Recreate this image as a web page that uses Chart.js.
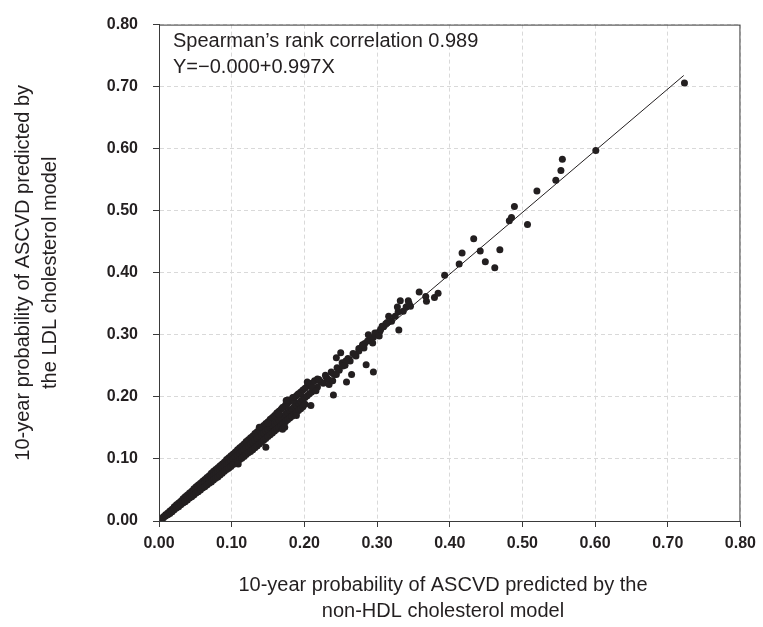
<!DOCTYPE html>
<html>
<head>
<meta charset="utf-8">
<title>LDL vs non-HDL ASCVD risk</title>
<script src="https://cdn.jsdelivr.net/npm/chart.js@4/dist/chart.umd.min.js"></script>
<style>
    body { margin: 0; background: #fff; }
    canvas { display: block; }
</style>
</head>
<body>
<canvas id="riskChart" width="763" height="627"></canvas>
<script>
// 10-year ASCVD risk: non-HDL model (x) vs LDL model (y)
// dense band near the origin, then the sparser upper part
const nonHdlRisk = [
    0.003, 0.003, 0.006, 0.006, 0.009, 0.009,
    0.012, 0.012, 0.012, 0.015, 0.015, 0.015, 0.018, 0.018, 0.018,
    0.021, 0.021, 0.021, 0.024, 0.024, 0.024, 0.027, 0.027, 0.027,
    0.030, 0.030, 0.030, 0.033, 0.033, 0.033, 0.036, 0.036, 0.036,
    0.039, 0.039, 0.039, 0.042, 0.042, 0.042, 0.045, 0.045, 0.045,
    0.048, 0.048, 0.048, 0.051, 0.051, 0.051, 0.054, 0.054, 0.054,
    0.057, 0.057, 0.057, 0.060, 0.060, 0.060, 0.063, 0.063, 0.063,
    0.066, 0.066, 0.066, 0.069, 0.069, 0.069, 0.072, 0.072, 0.072,
    0.075, 0.075, 0.075, 0.078, 0.078, 0.078, 0.081, 0.081, 0.081,
    0.084, 0.084, 0.084, 0.087, 0.087, 0.087, 0.090, 0.090, 0.090,
    0.093, 0.093, 0.093, 0.096, 0.096, 0.096, 0.099, 0.099, 0.099,
    0.102, 0.102, 0.102, 0.105, 0.105, 0.105, 0.108, 0.108, 0.108,
    0.111, 0.111, 0.111, 0.114, 0.114, 0.114, 0.117, 0.117, 0.117,
    0.120, 0.120, 0.120, 0.123, 0.123, 0.123, 0.126, 0.126, 0.126,
    0.129, 0.129, 0.129, 0.132, 0.132, 0.132, 0.135, 0.135, 0.135,
    0.138, 0.138, 0.138, 0.141, 0.141, 0.141, 0.144, 0.144, 0.144,
    0.147, 0.147, 0.147, 0.150, 0.150, 0.150, 0.153, 0.153, 0.153,
    0.156, 0.156, 0.156, 0.159, 0.159, 0.159, 0.162, 0.162, 0.162,
    0.165, 0.165, 0.165, 0.168, 0.168, 0.168, 0.171, 0.171, 0.171,
    0.174, 0.174, 0.174, 0.177, 0.177, 0.177, 0.180, 0.180, 0.180,
    0.183, 0.183, 0.183, 0.186, 0.186, 0.186, 0.189, 0.189, 0.189,
    0.192, 0.192, 0.192, 0.195, 0.195, 0.195, 0.198, 0.198, 0.198,
    0.201, 0.201, 0.201, 0.204, 0.204, 0.207, 0.207, 0.210, 0.210,
    0.214, 0.214, 0.218, 0.218,
    0.222, 0.226, 0.230, 0.233, 0.237, 0.241, 0.245, 0.248, 0.252, 0.256,
    0.260, 0.263, 0.267, 0.271, 0.275, 0.279, 0.283, 0.287, 0.291, 0.295,
    0.300, 0.304, 0.309, 0.314, 0.320, 0.325, 0.336, 0.340,
    0.150, 0.165, 0.175, 0.185, 0.195, 0.138, 0.147, 0.109, 0.170, 0.177,
    0.298, 0.288, 0.294, 0.282, 0.275, 0.269, 0.285, 0.295, 0.250, 0.244,
    0.257, 0.253, 0.265, 0.258, 0.244, 0.229, 0.220, 0.204, 0.234, 0.239,
    0.240, 0.211, 0.216, 0.191, 0.184, 0.209, 0.175, 0.170, 0.189, 0.173,
    0.312, 0.305, 0.297, 0.303, 0.280, 0.307, 0.330,
    0.316, 0.329, 0.328, 0.332, 0.343, 0.346, 0.344, 0.358, 0.367, 0.368,
    0.379, 0.384, 0.393, 0.413, 0.417, 0.433, 0.442, 0.449, 0.469, 0.462,
    0.482, 0.485, 0.489, 0.507, 0.520, 0.546, 0.553, 0.555, 0.601, 0.723
];
const ldlRisk = [
    0.003, 0.002, 0.007, 0.005, 0.010, 0.008,
    0.013, 0.011, 0.010, 0.016, 0.014, 0.012, 0.019, 0.017, 0.015,
    0.023, 0.020, 0.018, 0.026, 0.023, 0.021, 0.029, 0.026, 0.023,
    0.032, 0.029, 0.026, 0.036, 0.032, 0.029, 0.039, 0.035, 0.031,
    0.042, 0.038, 0.034, 0.045, 0.041, 0.037, 0.048, 0.044, 0.039,
    0.052, 0.047, 0.042, 0.055, 0.050, 0.045, 0.058, 0.053, 0.047,
    0.061, 0.056, 0.050, 0.064, 0.059, 0.053, 0.067, 0.062, 0.055,
    0.070, 0.064, 0.058, 0.073, 0.067, 0.061, 0.077, 0.070, 0.063,
    0.080, 0.073, 0.066, 0.083, 0.076, 0.069, 0.086, 0.079, 0.071,
    0.089, 0.082, 0.074, 0.092, 0.085, 0.077, 0.095, 0.088, 0.080,
    0.099, 0.091, 0.083, 0.102, 0.094, 0.085, 0.105, 0.097, 0.088,
    0.108, 0.100, 0.091, 0.111, 0.103, 0.094, 0.115, 0.106, 0.096,
    0.118, 0.109, 0.099, 0.121, 0.112, 0.101, 0.124, 0.115, 0.104,
    0.128, 0.118, 0.107, 0.131, 0.121, 0.110, 0.134, 0.124, 0.112,
    0.137, 0.127, 0.115, 0.141, 0.130, 0.118, 0.144, 0.133, 0.121,
    0.147, 0.136, 0.124, 0.151, 0.139, 0.127, 0.154, 0.142, 0.130,
    0.157, 0.145, 0.133, 0.160, 0.148, 0.136, 0.164, 0.151, 0.139,
    0.167, 0.154, 0.142, 0.170, 0.157, 0.145, 0.174, 0.160, 0.148,
    0.177, 0.163, 0.151, 0.180, 0.166, 0.154, 0.183, 0.169, 0.157,
    0.187, 0.172, 0.160, 0.190, 0.175, 0.163, 0.193, 0.178, 0.166,
    0.196, 0.181, 0.169, 0.199, 0.184, 0.172, 0.202, 0.187, 0.175,
    0.205, 0.190, 0.178, 0.208, 0.193, 0.181, 0.211, 0.196, 0.184,
    0.214, 0.199, 0.188, 0.217, 0.202, 0.220, 0.205, 0.222, 0.208,
    0.226, 0.212, 0.229, 0.216,
    0.225, 0.222, 0.232, 0.228, 0.240, 0.236, 0.247, 0.243, 0.255, 0.251,
    0.262, 0.258, 0.270, 0.266, 0.278, 0.280, 0.286, 0.290, 0.293, 0.296,
    0.303, 0.306, 0.313, 0.320, 0.322, 0.330, 0.338, 0.345,
    0.158, 0.172, 0.185, 0.194, 0.205, 0.151, 0.119, 0.092, 0.148, 0.195,
    0.300, 0.300, 0.287, 0.279, 0.274, 0.268, 0.252, 0.240, 0.271, 0.263,
    0.258, 0.250, 0.236, 0.224, 0.236, 0.235, 0.228, 0.224, 0.220, 0.226,
    0.203, 0.215, 0.210, 0.204, 0.199, 0.186, 0.194, 0.183, 0.170, 0.151,
    0.318, 0.309, 0.303, 0.298, 0.284, 0.314, 0.308,
    0.330, 0.337, 0.345, 0.355, 0.355, 0.346, 0.351, 0.369, 0.362, 0.354,
    0.360, 0.367, 0.396, 0.414, 0.432, 0.455, 0.435, 0.418, 0.437, 0.408,
    0.484, 0.489, 0.507, 0.478, 0.532, 0.549, 0.565, 0.583, 0.597, 0.706
];

// fitted line Y = -0.000 + 0.997X, end points as drawn
const fitLineX = [0.000, 0.722];
const fitLineY = [0.000, 0.718];

const axisTicks = [0, 0.1, 0.2, 0.3, 0.4, 0.5, 0.6, 0.7, 0.8];

const statText = ['Spearman\u2019s rank correlation 0.989', 'Y=\u22120.000+0.997X'];
const xTitle = ['10-year probability of ASCVD predicted by the', 'non-HDL cholesterol model'];
const yTitle = ['10-year probability of ASCVD predicted by', 'the LDL cholesterol model'];

const ink = '#231f20';
const fontFamily = 'Arial, "Liberation Sans", sans-serif';

const scatterPoints = nonHdlRisk.map((x, i) => ({ x: x, y: ldlRisk[i] }));
const fitPoints = fitLineX.map((x, i) => ({ x: x, y: fitLineY[i] }));

// frame around the plot and the free text
const extras = {
    id: 'extras',
    afterDraw(chart) {
        const { ctx, chartArea } = chart;
        ctx.save();
        ctx.strokeStyle = '#3a3a3a';
        ctx.lineWidth = 1;
        ctx.strokeRect(chartArea.left + 0.5, chartArea.top + 0.5,
            chartArea.right - chartArea.left - 1, chartArea.bottom - chartArea.top);

        ctx.fillStyle = ink;
        ctx.font = '20px ' + fontFamily;
        ctx.textAlign = 'left';
        ctx.textBaseline = 'middle';
        ctx.fillText(statText[0], chartArea.left + 14, 41);
        ctx.fillText(statText[1], chartArea.left + 14, 67);

        ctx.textAlign = 'center';
        ctx.fillText(xTitle[0], 443, 585);
        ctx.fillText(xTitle[1], 443, 611);
        ctx.restore();
    }
};

const tickFont = { family: fontFamily, size: 16, weight: 'bold' };
const gridOpts = {
    color: '#d9d9d9',
    lineWidth: 1,
    tickLength: 6,
    tickColor: '#3a3a3a',
    tickWidth: 1,
    tickBorderDash: []
};
// in v4 the grid line dash lives under border.dash
const borderOpts = { color: '#3a3a3a', width: 1, dash: [4, 3] };

new Chart(document.getElementById('riskChart'), {
    data: {
        datasets: [
            {
                type: 'scatter',
                data: scatterPoints,
                backgroundColor: ink,
                borderWidth: 0,
                pointRadius: 3.5
            },
            {
                type: 'line',
                data: fitPoints,
                borderColor: ink,
                borderWidth: 1,
                pointRadius: 0,
                fill: false
            }
        ]
    },
    options: {
        responsive: false,
        animation: false,
        devicePixelRatio: 1,
        layout: { padding: { top: 21, right: 20, left: 0, bottom: 0 } },
        plugins: {
            legend: { display: false },
            tooltip: { enabled: false }
        },
        scales: {
            x: {
                type: 'linear',
                min: 0,
                max: 0.8,
                afterBuildTicks: (scale) => { scale.ticks = axisTicks.map(v => ({ value: v })); },
                afterFit: (scale) => { scale.height = 106; },
                grid: gridOpts,
                border: borderOpts,
                ticks: {
                    color: ink,
                    font: tickFont,
                    padding: 7,
                    maxRotation: 0,
                    autoSkip: false,
                    callback: (v) => v.toFixed(2)
                }
            },
            y: {
                type: 'linear',
                min: 0,
                max: 0.8,
                afterBuildTicks: (scale) => { scale.ticks = axisTicks.map(v => ({ value: v })); },
                afterFit: (scale) => { scale.width = 159; },
                grid: gridOpts,
                border: borderOpts,
                ticks: {
                    color: ink,
                    font: tickFont,
                    padding: 15,
                    autoSkip: false,
                    callback: (v) => v.toFixed(2)
                },
                title: {
                    display: true,
                    text: yTitle,
                    color: ink,
                    font: { family: fontFamily, size: 20, lineHeight: 1.35 },
                    padding: { top: 10, bottom: 0 }
                }
            }
        }
    },
    plugins: [extras]
});
</script>
</body>
</html>
